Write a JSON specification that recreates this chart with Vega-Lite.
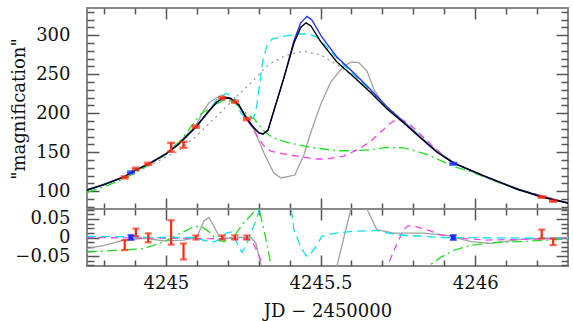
{
"$schema": "https://vega.github.io/schema/vega-lite/v6.json",
"autosize": {"type": "pad"},
"padding": {"left": 9, "top": 1, "right": 8, "bottom": 5},
"bounds": "flush",
"spacing": 0,
"background": "white",
"config": {
  "view": {"stroke": "#888888", "strokeWidth": 2},
  "axis": {"labelFont": "DejaVu Serif", "labelFontSize": 18, "titleFont": "DejaVu Serif", "titleFontSize": 18, "titleFontWeight": "normal", "labelColor": "#111111", "titleColor": "#111111", "tickColor": "#555555", "tickWidth": 1.5, "domain": false, "grid": false, "labelOverlap": false, "labelFlush": false}
},
"datasets": {
  "curves": [
    {"m":"k","x":4244.745,"y":101.4},{"m":"k","x":4244.800,"y":108.2},{"m":"k","x":4244.864,"y":118.1},{"m":"k","x":4244.897,"y":125.8},{"m":"k","x":4244.945,"y":134.8},{"m":"k","x":4245.000,"y":147.6},{"m":"k","x":4245.042,"y":160.4},{"m":"k","x":4245.097,"y":182.3},{"m":"k","x":4245.139,"y":202.8},{"m":"k","x":4245.165,"y":214.3},{"m":"k","x":4245.188,"y":220.1},{"m":"k","x":4245.210,"y":218.8},{"m":"k","x":4245.236,"y":210.5},{"m":"k","x":4245.262,"y":192.5},{"m":"k","x":4245.285,"y":181.0},{"m":"k","x":4245.301,"y":174.6},{"m":"k","x":4245.314,"y":173.3},{"m":"k","x":4245.330,"y":178},{"m":"k","x":4245.349,"y":203},{"m":"k","x":4245.382,"y":246},{"m":"k","x":4245.414,"y":290},{"m":"k","x":4245.436,"y":310},{"m":"k","x":4245.453,"y":316},{"m":"k","x":4245.469,"y":312},{"m":"k","x":4245.501,"y":291.4},{"m":"k","x":4245.553,"y":265.7},{"m":"k","x":4245.608,"y":246.4},{"m":"k","x":4245.660,"y":227.2},{"m":"k","x":4245.715,"y":205.4},{"m":"k","x":4245.769,"y":187.4},{"m":"k","x":4245.824,"y":168.1},{"m":"k","x":4245.876,"y":150.2},{"m":"k","x":4245.931,"y":136.0},{"m":"k","x":4246.028,"y":119.4},{"m":"k","x":4246.135,"y":102.7},{"m":"k","x":4246.216,"y":92.4},{"m":"k","x":4246.300,"y":84.7},

    {"m":"b","x":4244.745,"y":101.4},{"m":"b","x":4244.800,"y":108.2},{"m":"b","x":4244.864,"y":118.1},{"m":"b","x":4244.897,"y":125.8},{"m":"b","x":4244.945,"y":134.8},{"m":"b","x":4245.000,"y":147.6},{"m":"b","x":4245.042,"y":160.4},{"m":"b","x":4245.097,"y":182.3},{"m":"b","x":4245.139,"y":202.8},{"m":"b","x":4245.165,"y":214.3},{"m":"b","x":4245.188,"y":220.1},{"m":"b","x":4245.210,"y":218.8},{"m":"b","x":4245.236,"y":210.5},{"m":"b","x":4245.262,"y":192.5},{"m":"b","x":4245.285,"y":181.0},{"m":"b","x":4245.301,"y":174.6},{"m":"b","x":4245.314,"y":173.3},{"m":"b","x":4245.330,"y":178},{"m":"b","x":4245.349,"y":203},{"m":"b","x":4245.382,"y":246},{"m":"b","x":4245.414,"y":293},{"m":"b","x":4245.436,"y":316},{"m":"b","x":4245.456,"y":324.3},{"m":"b","x":4245.472,"y":319.6},{"m":"b","x":4245.504,"y":297.8},{"m":"b","x":4245.553,"y":272},{"m":"b","x":4245.608,"y":251.6},{"m":"b","x":4245.660,"y":231},{"m":"b","x":4245.715,"y":208},{"m":"b","x":4245.769,"y":188.7},{"m":"b","x":4245.824,"y":168.1},{"m":"b","x":4245.876,"y":150.2},{"m":"b","x":4245.931,"y":136.0},{"m":"b","x":4246.028,"y":119.4},{"m":"b","x":4246.135,"y":102.7},{"m":"b","x":4246.216,"y":92.4},{"m":"b","x":4246.300,"y":84.7},

    {"m":"c","x":4244.745,"y":101.4},{"m":"c","x":4244.800,"y":108.2},{"m":"c","x":4244.864,"y":118.1},{"m":"c","x":4244.897,"y":125.8},{"m":"c","x":4244.945,"y":134.8},{"m":"c","x":4245.000,"y":147.6},{"m":"c","x":4245.042,"y":160.4},{"m":"c","x":4245.097,"y":182.3},{"m":"c","x":4245.139,"y":202.8},{"m":"c","x":4245.165,"y":218},{"m":"c","x":4245.194,"y":225.3},{"m":"c","x":4245.220,"y":220.8},{"m":"c","x":4245.243,"y":200},{"m":"c","x":4245.259,"y":193},{"m":"c","x":4245.272,"y":192},{"m":"c","x":4245.285,"y":195},{"m":"c","x":4245.294,"y":210},{"m":"c","x":4245.304,"y":240},{"m":"c","x":4245.314,"y":268},{"m":"c","x":4245.327,"y":287},{"m":"c","x":4245.343,"y":295},{"m":"c","x":4245.372,"y":298},{"m":"c","x":4245.424,"y":301.6},{"m":"c","x":4245.462,"y":301.6},{"m":"c","x":4245.485,"y":298.4},{"m":"c","x":4245.511,"y":288.8},{"m":"c","x":4245.553,"y":270.8},{"m":"c","x":4245.608,"y":249.0},{"m":"c","x":4245.660,"y":229.7},{"m":"c","x":4245.715,"y":207.5},{"m":"c","x":4245.769,"y":188.5},{"m":"c","x":4245.876,"y":150.5},{"m":"c","x":4245.931,"y":136.0},{"m":"c","x":4246.028,"y":119.4},{"m":"c","x":4246.135,"y":102.7},{"m":"c","x":4246.216,"y":92.4},{"m":"c","x":4246.300,"y":84.7},

    {"m":"d","x":4244.745,"y":100.1},{"m":"d","x":4244.864,"y":116.8},{"m":"d","x":4244.945,"y":132.2},{"m":"d","x":4245.000,"y":143.7},{"m":"d","x":4245.042,"y":152},{"m":"d","x":4245.091,"y":168},{"m":"d","x":4245.123,"y":180},{"m":"d","x":4245.178,"y":201.5},{"m":"d","x":4245.230,"y":222},{"m":"d","x":4245.275,"y":238.7},{"m":"d","x":4245.317,"y":256.7},{"m":"d","x":4245.339,"y":264},{"m":"d","x":4245.391,"y":274.5},{"m":"d","x":4245.446,"y":279.5},{"m":"d","x":4245.501,"y":274.7},{"m":"d","x":4245.575,"y":256.7},{"m":"d","x":4245.663,"y":227.2},{"m":"d","x":4245.769,"y":189.5},{"m":"d","x":4245.876,"y":151.0},{"m":"d","x":4245.931,"y":136.2},{"m":"d","x":4246.028,"y":119.4},{"m":"d","x":4246.135,"y":102.7},{"m":"d","x":4246.216,"y":92.4},{"m":"d","x":4246.300,"y":84.7},

    {"m":"g","x":4244.745,"y":101.4},{"m":"g","x":4244.864,"y":118.1},{"m":"g","x":4244.945,"y":135.2},{"m":"g","x":4245.000,"y":148.6},{"m":"g","x":4245.042,"y":162.5},{"m":"g","x":4245.097,"y":184},{"m":"g","x":4245.123,"y":204},{"m":"g","x":4245.139,"y":213},{"m":"g","x":4245.162,"y":219.5},{"m":"g","x":4245.181,"y":222.7},{"m":"g","x":4245.204,"y":219},{"m":"g","x":4245.236,"y":209.2},{"m":"g","x":4245.262,"y":195.1},{"m":"g","x":4245.285,"y":178.4},{"m":"g","x":4245.301,"y":164.3},{"m":"g","x":4245.317,"y":148.9},{"m":"g","x":4245.349,"y":123.2},{"m":"g","x":4245.372,"y":116.8},{"m":"g","x":4245.417,"y":120.6},{"m":"g","x":4245.446,"y":146.3},{"m":"g","x":4245.469,"y":175.8},{"m":"g","x":4245.501,"y":211.8},{"m":"g","x":4245.533,"y":240.0},{"m":"g","x":4245.575,"y":260.6},{"m":"g","x":4245.601,"y":265.7},{"m":"g","x":4245.624,"y":265.0},{"m":"g","x":4245.650,"y":254.1},{"m":"g","x":4245.672,"y":231.0},{"m":"g","x":4245.705,"y":210.5},{"m":"g","x":4245.769,"y":189.5},{"m":"g","x":4245.876,"y":151.5},{"m":"g","x":4245.931,"y":136.6},{"m":"g","x":4245.986,"y":125.8},{"m":"g","x":4246.051,"y":115},{"m":"g","x":4246.148,"y":101},{"m":"g","x":4246.300,"y":84.7},

    {"m":"gr","x":4244.745,"y":98.2},{"m":"gr","x":4244.800,"y":105.3},{"m":"gr","x":4244.864,"y":115.6},{"m":"gr","x":4244.939,"y":132.2},{"m":"gr","x":4244.994,"y":145.5},{"m":"gr","x":4245.048,"y":165},{"m":"gr","x":4245.091,"y":188},{"m":"gr","x":4245.113,"y":199},{"m":"gr","x":4245.145,"y":207},{"m":"gr","x":4245.188,"y":217.5},{"m":"gr","x":4245.220,"y":214},{"m":"gr","x":4245.252,"y":202},{"m":"gr","x":4245.285,"y":193},{"m":"gr","x":4245.317,"y":177},{"m":"gr","x":4245.333,"y":172},{"m":"gr","x":4245.349,"y":168},{"m":"gr","x":4245.391,"y":162.6},{"m":"gr","x":4245.469,"y":156},{"m":"gr","x":4245.553,"y":151.8},{"m":"gr","x":4245.608,"y":151.8},{"m":"gr","x":4245.663,"y":153},{"m":"gr","x":4245.715,"y":156},{"m":"gr","x":4245.769,"y":155.5},{"m":"gr","x":4245.802,"y":152},{"m":"gr","x":4245.850,"y":146},{"m":"gr","x":4245.889,"y":139},{"m":"gr","x":4245.931,"y":131.3},{"m":"gr","x":4245.986,"y":125},{"m":"gr","x":4246.051,"y":114.7},{"m":"gr","x":4246.148,"y":100.3},{"m":"gr","x":4246.300,"y":84.3},

    {"m":"mg","x":4244.745,"y":101.4},{"m":"mg","x":4244.800,"y":108.2},{"m":"mg","x":4244.864,"y":118.1},{"m":"mg","x":4244.897,"y":125.8},{"m":"mg","x":4244.945,"y":134.8},{"m":"mg","x":4245.000,"y":147.6},{"m":"mg","x":4245.042,"y":160.4},{"m":"mg","x":4245.097,"y":182.3},{"m":"mg","x":4245.139,"y":202.8},{"m":"mg","x":4245.165,"y":214.3},{"m":"mg","x":4245.188,"y":220.1},{"m":"mg","x":4245.210,"y":218.8},{"m":"mg","x":4245.236,"y":210.5},{"m":"mg","x":4245.252,"y":198},{"m":"mg","x":4245.285,"y":178},{"m":"mg","x":4245.301,"y":166.8},{"m":"mg","x":4245.317,"y":157.9},{"m":"mg","x":4245.339,"y":151.4},{"m":"mg","x":4245.382,"y":147.6},{"m":"mg","x":4245.424,"y":145.0},{"m":"mg","x":4245.478,"y":141.2},{"m":"mg","x":4245.521,"y":141.2},{"m":"mg","x":4245.575,"y":145.0},{"m":"mg","x":4245.624,"y":154.0},{"m":"mg","x":4245.663,"y":164.3},{"m":"mg","x":4245.698,"y":177.1},{"m":"mg","x":4245.727,"y":187.4},{"m":"mg","x":4245.747,"y":192},{"m":"mg","x":4245.769,"y":190.5},{"m":"mg","x":4245.792,"y":184.6},{"m":"mg","x":4245.824,"y":172.5},{"m":"mg","x":4245.857,"y":159.7},{"m":"mg","x":4245.899,"y":145.2},{"m":"mg","x":4245.931,"y":136},{"m":"mg","x":4246.051,"y":115.5},{"m":"mg","x":4246.148,"y":101.5},{"m":"mg","x":4246.300,"y":84.6}
  ],
  "resid": [
    {"m":"g","x":4244.745,"r":-0.030},{"m":"g","x":4244.800,"r":-0.021},{"m":"g","x":4244.864,"r":-0.007},{"m":"g","x":4244.929,"r":-0.002},{"m":"g","x":4244.994,"r":-0.009},{"m":"g","x":4245.058,"r":-0.007},{"m":"g","x":4245.100,"r":0.0},{"m":"g","x":4245.123,"r":0.045},{"m":"g","x":4245.139,"r":0.054},{"m":"g","x":4245.155,"r":0.031},{"m":"g","x":4245.171,"r":0.004},{"m":"g","x":4245.197,"r":-0.002},{"m":"g","x":4245.242,"r":0.0},{"m":"g","x":4245.275,"r":0.0},{"m":"g","x":4245.291,"r":-0.016},{"m":"g","x":4245.307,"r":-0.072},{"m":"g","x":4245.317,"r":-0.12},{"m":"g","x":4245.327,"r":-0.3},{"m":"g","x":4245.537,"r":-0.3},{"m":"g","x":4245.553,"r":-0.077},{"m":"g","x":4245.598,"r":0.077},{"m":"g","x":4245.614,"r":0.09},{"m":"g","x":4245.634,"r":0.09},{"m":"g","x":4245.650,"r":0.077},{"m":"g","x":4245.682,"r":0.021},{"m":"g","x":4245.737,"r":0.012},{"m":"g","x":4245.802,"r":0.012},{"m":"g","x":4245.834,"r":0.012},{"m":"g","x":4245.908,"r":0.006},{"m":"g","x":4245.986,"r":-0.011},{"m":"g","x":4246.051,"r":-0.016},{"m":"g","x":4246.148,"r":-0.005},{"m":"g","x":4246.300,"r":0.0},

    {"m":"gr","x":4244.745,"r":-0.039},{"m":"gr","x":4244.842,"r":-0.035},{"m":"gr","x":4244.929,"r":-0.030},{"m":"gr","x":4244.994,"r":-0.011},{"m":"gr","x":4245.048,"r":0.012},{"m":"gr","x":4245.091,"r":0.029},{"m":"gr","x":4245.113,"r":0.031},{"m":"gr","x":4245.145,"r":0.012},{"m":"gr","x":4245.165,"r":-0.007},{"m":"gr","x":4245.188,"r":-0.011},{"m":"gr","x":4245.220,"r":0.003},{"m":"gr","x":4245.252,"r":0.040},{"m":"gr","x":4245.275,"r":0.060},{"m":"gr","x":4245.291,"r":0.077},{"m":"gr","x":4245.301,"r":0.076},{"m":"gr","x":4245.317,"r":0.021},{"m":"gr","x":4245.333,"r":-0.044},{"m":"gr","x":4245.343,"r":-0.09},{"m":"gr","x":4245.349,"r":-0.3},{"m":"gr","x":4245.834,"r":-0.3},{"m":"gr","x":4245.844,"r":-0.08},{"m":"gr","x":4245.889,"r":-0.053},{"m":"gr","x":4245.931,"r":-0.035},{"m":"gr","x":4245.986,"r":-0.021},{"m":"gr","x":4246.051,"r":-0.014},{"m":"gr","x":4246.148,"r":-0.011},{"m":"gr","x":4246.300,"r":-0.004},

    {"m":"c","x":4244.745,"r":0.003},{"m":"c","x":4244.864,"r":0.002},{"m":"c","x":4244.994,"r":0.0},{"m":"c","x":4245.091,"r":0.0},{"m":"c","x":4245.123,"r":-0.008},{"m":"c","x":4245.155,"r":-0.012},{"m":"c","x":4245.175,"r":-0.005},{"m":"c","x":4245.194,"r":0.012},{"m":"c","x":4245.213,"r":0.015},{"m":"c","x":4245.230,"r":-0.015},{"m":"c","x":4245.246,"r":-0.040},{"m":"c","x":4245.262,"r":-0.016},{"m":"c","x":4245.278,"r":0.020},{"m":"c","x":4245.291,"r":0.045},{"m":"c","x":4245.307,"r":0.09},{"m":"c","x":4245.317,"r":0.3},{"m":"c","x":4245.388,"r":0.3},{"m":"c","x":4245.404,"r":0.085},{"m":"c","x":4245.414,"r":0.021},{"m":"c","x":4245.436,"r":-0.025},{"m":"c","x":4245.453,"r":-0.049},{"m":"c","x":4245.462,"r":-0.051},{"m":"c","x":4245.485,"r":-0.025},{"m":"c","x":4245.504,"r":0.003},{"m":"c","x":4245.533,"r":0.010},{"m":"c","x":4245.608,"r":0.017},{"m":"c","x":4245.682,"r":0.019},{"m":"c","x":4245.747,"r":0.007},{"m":"c","x":4245.834,"r":0.003},{"m":"c","x":4245.899,"r":0.0},{"m":"c","x":4246.300,"r":-0.002},

    {"m":"mg","x":4244.745,"r":0.0},{"m":"mg","x":4245.252,"r":-0.004},{"m":"mg","x":4245.275,"r":-0.007},{"m":"mg","x":4245.285,"r":-0.020},{"m":"mg","x":4245.294,"r":-0.035},{"m":"mg","x":4245.310,"r":-0.067},{"m":"mg","x":4245.320,"r":-0.1},{"m":"mg","x":4245.327,"r":-0.3},{"m":"mg","x":4245.705,"r":-0.3},{"m":"mg","x":4245.715,"r":-0.08},{"m":"mg","x":4245.747,"r":-0.016},{"m":"mg","x":4245.769,"r":0.021},{"m":"mg","x":4245.782,"r":0.031},{"m":"mg","x":4245.795,"r":0.032},{"m":"mg","x":4245.824,"r":0.026},{"m":"mg","x":4245.857,"r":0.017},{"m":"mg","x":4245.889,"r":0.007},{"m":"mg","x":4245.931,"r":0.0},{"m":"mg","x":4245.986,"r":-0.004},{"m":"mg","x":4246.038,"r":-0.007},{"m":"mg","x":4246.148,"r":-0.005},{"m":"mg","x":4246.300,"r":-0.002}
  ],
  "points": [
    {"t":"red","x":4244.867,"A":117.6,"Alo":116.4,"Ahi":118.8,"r":-0.020,"rlo":-0.034,"rhi":-0.007},
    {"t":"blue","x":4244.887,"A":124.0,"Alo":122.8,"Ahi":125.2,"r":0.0,"rlo":-0.0065,"rhi":0.0065},
    {"t":"red","x":4244.903,"A":128.7,"Alo":127.5,"Ahi":129.9,"r":0.014,"rlo":0.0036,"rhi":0.024},
    {"t":"red","x":4244.943,"A":135.1,"Alo":133.8,"Ahi":136.4,"r":-0.001,"rlo":-0.013,"rhi":0.011},
    {"t":"red","x":4245.017,"A":156.2,"Alo":150.5,"Ahi":161.9,"r":0.014,"rlo":-0.019,"rhi":0.0466},
    {"t":"red","x":4245.057,"A":159.5,"Alo":155.7,"Ahi":163.3,"r":-0.038,"rlo":-0.0593,"rhi":-0.0163},
    {"t":"red","x":4245.097,"A":182.6,"Alo":181.3,"Ahi":183.9,"r":0.0,"rlo":-0.0055,"rhi":0.0055},
    {"t":"red","x":4245.182,"A":219.5,"Alo":218.2,"Ahi":220.8,"r":0.0,"rlo":-0.0055,"rhi":0.0055},
    {"t":"red","x":4245.223,"A":214.8,"Alo":213.5,"Ahi":216.1,"r":0.0,"rlo":-0.0055,"rhi":0.0055},
    {"t":"red","x":4245.262,"A":192.5,"Alo":191.2,"Ahi":193.8,"r":0.0,"rlo":-0.0055,"rhi":0.0055},
    {"t":"blue","x":4245.929,"A":135.1,"Alo":133.9,"Ahi":136.3,"r":0.0,"rlo":-0.0065,"rhi":0.0065},
    {"t":"red","x":4246.215,"A":92.3,"Alo":91.4,"Ahi":93.2,"r":0.009,"rlo":-0.003,"rhi":0.0214},
    {"t":"red","x":4246.252,"A":87.1,"Alo":86.3,"Ahi":87.9,"r":-0.012,"rlo":-0.0206,"rhi":-0.003}
  ]
},
"vconcat": [
  {
    "width": 481, "height": 201,
    "resolve": {"axis": {"x": "independent", "y": "independent"}},
    "layer": [
      {"data": {"name": "curves"}, "transform": [{"filter": "datum.m == 'd'"}],
       "mark": {"type": "line", "color": "#9a9a9a", "strokeDash": [2, 4], "strokeWidth": 1.3, "clip": true},
       "encoding": {
         "x": {"field": "x", "type": "quantitative", "scale": {"domain": [4244.745, 4246.3], "nice": false, "zero": false},
               "axis": {"orient": "top", "values": [4244.8,4244.9,4245,4245.1,4245.2,4245.3,4245.4,4245.5,4245.6,4245.7,4245.8,4245.9,4246,4246.1,4246.2], "labels": false, "title": null,
                        "tickSize": {"condition": {"test": "abs(datum.value*2 - round(datum.value*2)) < 0.01", "value": -11}, "value": -6}}},
         "y": {"field": "y", "type": "quantitative", "scale": {"domain": [77, 335], "nice": false, "zero": false},
               "axis": {"orient": "right", "values": [80,90,100,110,120,130,140,150,160,170,180,190,200,210,220,230,240,250,260,270,280,290,300,310,320,330], "labels": false, "title": null,
                        "tickSize": {"condition": {"test": "datum.value % 50 == 0", "value": -12}, "value": -7}}}
       }},
      {"data": {"name": "curves"}, "transform": [{"filter": "datum.m == 'g'"}],
       "mark": {"type": "line", "color": "#a0a0a0", "strokeWidth": 1.3, "clip": true},
       "encoding": {"x": {"field": "x", "type": "quantitative", "scale": {"domain": [4244.745, 4246.3], "nice": false, "zero": false}, "axis": null},
                    "y": {"field": "y", "type": "quantitative", "scale": {"domain": [77, 335], "nice": false, "zero": false}, "axis": null}}},
      {"data": {"name": "curves"}, "transform": [{"filter": "datum.m == 'gr'"}],
       "mark": {"type": "line", "color": "#22dd22", "strokeDash": [10, 4, 2, 4], "strokeWidth": 1.3, "clip": true},
       "encoding": {"x": {"field": "x", "type": "quantitative", "scale": {"domain": [4244.745, 4246.3], "nice": false, "zero": false}, "axis": null},
                    "y": {"field": "y", "type": "quantitative", "scale": {"domain": [77, 335], "nice": false, "zero": false}, "axis": null}}},
      {"data": {"name": "curves"}, "transform": [{"filter": "datum.m == 'mg'"}],
       "mark": {"type": "line", "color": "#ee44ee", "strokeDash": [7, 5], "strokeWidth": 1.3, "clip": true},
       "encoding": {"x": {"field": "x", "type": "quantitative", "scale": {"domain": [4244.745, 4246.3], "nice": false, "zero": false}, "axis": null},
                    "y": {"field": "y", "type": "quantitative", "scale": {"domain": [77, 335], "nice": false, "zero": false}, "axis": null}}},
      {"data": {"name": "curves"}, "transform": [{"filter": "datum.m == 'c'"}],
       "mark": {"type": "line", "color": "#11e0f0", "strokeDash": [9, 5], "strokeWidth": 1.3, "clip": true},
       "encoding": {"x": {"field": "x", "type": "quantitative", "scale": {"domain": [4244.745, 4246.3], "nice": false, "zero": false}, "axis": null},
                    "y": {"field": "y", "type": "quantitative", "scale": {"domain": [77, 335], "nice": false, "zero": false}, "axis": null}}},
      {"data": {"name": "curves"}, "transform": [{"filter": "datum.m == 'b'"}],
       "mark": {"type": "line", "color": "#2233ee", "strokeWidth": 1.4, "clip": true},
       "encoding": {"x": {"field": "x", "type": "quantitative", "scale": {"domain": [4244.745, 4246.3], "nice": false, "zero": false}, "axis": null},
                    "y": {"field": "y", "type": "quantitative", "scale": {"domain": [77, 335], "nice": false, "zero": false}, "axis": null}}},
      {"data": {"name": "curves"}, "transform": [{"filter": "datum.m == 'k'"}],
       "mark": {"type": "line", "color": "#000000", "strokeWidth": 1.4, "clip": true},
       "encoding": {
         "x": {"field": "x", "type": "quantitative", "scale": {"domain": [4244.745, 4246.3], "nice": false, "zero": false},
               "axis": {"orient": "bottom", "values": [4244.8,4244.9,4245,4245.1,4245.2,4245.3,4245.4,4245.5,4245.6,4245.7,4245.8,4245.9,4246,4246.1,4246.2], "labels": false, "title": null,
                        "tickSize": {"condition": {"test": "abs(datum.value*2 - round(datum.value*2)) < 0.01", "value": -11}, "value": -6}}},
         "y": {"field": "y", "type": "quantitative", "scale": {"domain": [77, 335], "nice": false, "zero": false},
               "axis": {"orient": "left", "values": [80,90,100,110,120,130,140,150,160,170,180,190,200,210,220,230,240,250,260,270,280,290,300,310,320,330],
                        "labelExpr": "datum.value % 50 == 0 ? datum.label : ''", "labelPadding": 29, "title": "\"magnification\"", "titlePadding": 7,
                        "tickSize": {"condition": {"test": "datum.value % 50 == 0", "value": -12}, "value": -7}}}
       }},
      {"data": {"name": "points"},
       "mark": {"type": "rule", "strokeWidth": 2.5},
       "encoding": {"x": {"field": "x", "type": "quantitative", "scale": {"domain": [4244.745, 4246.3], "nice": false, "zero": false}, "axis": null},
                    "y": {"field": "Alo", "type": "quantitative", "scale": {"domain": [77, 335], "nice": false, "zero": false}, "axis": null},
                    "y2": {"field": "Ahi"},
                    "color": {"field": "t", "type": "nominal", "scale": {"domain": ["red", "blue"], "range": ["#ff2a10", "#1a2aff"]}, "legend": null}}},
      {"data": {"name": "points"},
       "mark": {"type": "tick", "orient": "horizontal", "size": 8, "thickness": 2.5},
       "encoding": {"x": {"field": "x", "type": "quantitative", "scale": {"domain": [4244.745, 4246.3], "nice": false, "zero": false}, "axis": null},
                    "y": {"field": "Alo", "type": "quantitative", "scale": {"domain": [77, 335], "nice": false, "zero": false}, "axis": null},
                    "color": {"field": "t", "type": "nominal", "scale": {"domain": ["red", "blue"], "range": ["#ff2a10", "#1a2aff"]}, "legend": null}}},
      {"data": {"name": "points"},
       "mark": {"type": "tick", "orient": "horizontal", "size": 8, "thickness": 2.5},
       "encoding": {"x": {"field": "x", "type": "quantitative", "scale": {"domain": [4244.745, 4246.3], "nice": false, "zero": false}, "axis": null},
                    "y": {"field": "Ahi", "type": "quantitative", "scale": {"domain": [77, 335], "nice": false, "zero": false}, "axis": null},
                    "color": {"field": "t", "type": "nominal", "scale": {"domain": ["red", "blue"], "range": ["#ff2a10", "#1a2aff"]}, "legend": null}}}
    ]
  },
  {
    "width": 481, "height": 57,
    "resolve": {"axis": {"x": "independent", "y": "independent"}},
    "layer": [
      {"data": {"name": "resid"}, "transform": [{"filter": "datum.m == 'g'"}],
       "mark": {"type": "line", "color": "#a0a0a0", "strokeWidth": 1.3, "clip": true},
       "encoding": {
         "x": {"field": "x", "type": "quantitative", "scale": {"domain": [4244.745, 4246.3], "nice": false, "zero": false},
               "axis": {"orient": "top", "values": [4244.8,4244.9,4245,4245.1,4245.2,4245.3,4245.4,4245.5,4245.6,4245.7,4245.8,4245.9,4246,4246.1,4246.2], "labels": false, "title": null,
                        "tickSize": {"condition": {"test": "abs(datum.value*2 - round(datum.value*2)) < 0.01", "value": -11}, "value": -6}}},
         "y": {"field": "r", "type": "quantitative", "scale": {"domain": [-0.077, 0.077], "nice": false, "zero": false},
               "axis": {"orient": "right", "values": [-0.075,-0.0625,-0.05,-0.0375,-0.025,-0.0125,0,0.0125,0.025,0.0375,0.05,0.0625,0.075], "labels": false, "title": null,
                        "tickSize": {"condition": {"test": "abs(datum.value*20 - round(datum.value*20)) < 0.001", "value": -12}, "value": -7}}}
       }},
      {"data": {"name": "resid"}, "transform": [{"filter": "datum.m == 'gr'"}],
       "mark": {"type": "line", "color": "#22dd22", "strokeDash": [10, 4, 2, 4], "strokeWidth": 1.3, "clip": true},
       "encoding": {"x": {"field": "x", "type": "quantitative", "scale": {"domain": [4244.745, 4246.3], "nice": false, "zero": false}, "axis": null},
                    "y": {"field": "r", "type": "quantitative", "scale": {"domain": [-0.077, 0.077], "nice": false, "zero": false}, "axis": null}}},
      {"data": {"name": "resid"}, "transform": [{"filter": "datum.m == 'mg'"}],
       "mark": {"type": "line", "color": "#ee44ee", "strokeDash": [7, 5], "strokeWidth": 1.3, "clip": true},
       "encoding": {"x": {"field": "x", "type": "quantitative", "scale": {"domain": [4244.745, 4246.3], "nice": false, "zero": false}, "axis": null},
                    "y": {"field": "r", "type": "quantitative", "scale": {"domain": [-0.077, 0.077], "nice": false, "zero": false}, "axis": null}}},
      {"data": {"name": "resid"}, "transform": [{"filter": "datum.m == 'c'"}],
       "mark": {"type": "line", "color": "#11e0f0", "strokeDash": [9, 5], "strokeWidth": 1.3, "clip": true},
       "encoding": {"x": {"field": "x", "type": "quantitative", "scale": {"domain": [4244.745, 4246.3], "nice": false, "zero": false}, "axis": null},
                    "y": {"field": "r", "type": "quantitative", "scale": {"domain": [-0.077, 0.077], "nice": false, "zero": false}, "axis": null}}},
      {"mark": {"type": "rule", "color": "#000000", "strokeWidth": 1.3},
       "encoding": {"y": {"datum": 0, "type": "quantitative", "scale": {"domain": [-0.077, 0.077], "nice": false, "zero": false}, "axis": null}}},
      {"data": {"name": "points"},
       "mark": {"type": "rule"},
       "encoding": {
         "x": {"field": "x", "type": "quantitative", "scale": {"domain": [4244.745, 4246.3], "nice": false, "zero": false},
               "axis": {"orient": "bottom", "values": [4244.8,4244.9,4245,4245.1,4245.2,4245.3,4245.4,4245.5,4245.6,4245.7,4245.8,4245.9,4246,4246.1,4246.2],
                        "format": ".1~f", "labelExpr": "abs(datum.value*2 - round(datum.value*2)) < 0.01 ? datum.label : ''", "labelPadding": 19,
                        "title": "JD  −  2450000", "titlePadding": 5,
                        "tickSize": {"condition": {"test": "abs(datum.value*2 - round(datum.value*2)) < 0.01", "value": -11}, "value": -6}}},
         "y": {"field": "rlo", "type": "quantitative", "scale": {"domain": [-0.077, 0.077], "nice": false, "zero": false},
               "axis": {"orient": "left", "values": [-0.075,-0.0625,-0.05,-0.0375,-0.025,-0.0125,0,0.0125,0.025,0.0375,0.05,0.0625,0.075],
                        "format": ".2~f", "labelExpr": "abs(datum.value*20 - round(datum.value*20)) < 0.001 ? datum.label : ''", "labelPadding": 29, "title": null,
                        "tickSize": {"condition": {"test": "abs(datum.value*20 - round(datum.value*20)) < 0.001", "value": -12}, "value": -7}}},
         "y2": {"field": "rhi"},
         "strokeWidth": {"field": "t", "type": "nominal", "scale": {"domain": ["red", "blue"], "range": [2.2, 5]}, "legend": null},
         "color": {"field": "t", "type": "nominal", "scale": {"domain": ["red", "blue"], "range": ["#ff2a10", "#1a2aff"]}, "legend": null}}},
      {"data": {"name": "points"},
       "mark": {"type": "tick", "orient": "horizontal", "size": 7, "thickness": 2.2},
       "encoding": {"x": {"field": "x", "type": "quantitative", "scale": {"domain": [4244.745, 4246.3], "nice": false, "zero": false}, "axis": null},
                    "y": {"field": "rlo", "type": "quantitative", "scale": {"domain": [-0.077, 0.077], "nice": false, "zero": false}, "axis": null},
                    "color": {"field": "t", "type": "nominal", "scale": {"domain": ["red", "blue"], "range": ["#ff2a10", "#1a2aff"]}, "legend": null}}},
      {"data": {"name": "points"},
       "mark": {"type": "tick", "orient": "horizontal", "size": 7, "thickness": 2.2},
       "encoding": {"x": {"field": "x", "type": "quantitative", "scale": {"domain": [4244.745, 4246.3], "nice": false, "zero": false}, "axis": null},
                    "y": {"field": "rhi", "type": "quantitative", "scale": {"domain": [-0.077, 0.077], "nice": false, "zero": false}, "axis": null},
                    "color": {"field": "t", "type": "nominal", "scale": {"domain": ["red", "blue"], "range": ["#ff2a10", "#1a2aff"]}, "legend": null}}}
    ]
  }
]
}
